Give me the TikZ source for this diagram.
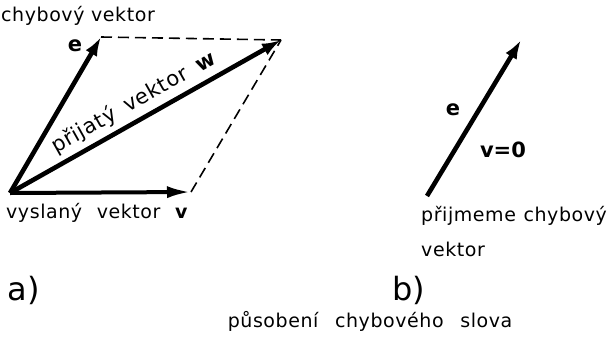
\documentclass[tikz,border=0pt]{standalone}
\usepackage{fontspec}
\setmainfont{DejaVu Sans}
\newfontfamily\spaced[LetterSpace=3]{DejaVu Sans}
\usetikzlibrary{arrows.meta}
\begin{document}
\begin{tikzpicture}[x=1pt, y=-1pt,
  vec/.style={line width=4.6pt, -{Latex[length=19pt, width=13pt]}},
  vecv/.style={line width=4pt, -{Latex[length=24pt, width=12pt]}},
  aux/.style={line width=1.6pt, dash pattern=on 11pt off 6pt},
  lab/.style={font=\fontsize{19}{21}\selectfont\spaced, inner sep=0pt},
  sym/.style={font=\fontsize{21}{22}\selectfont\bfseries, inner sep=0pt},
  big/.style={font=\fontsize{32}{34}\selectfont, inner sep=0pt}
]
\useasboundingbox (0,0) rectangle (611,338);
\coordinate (O) at (10,193);
\coordinate (E) at (101,37);
\coordinate (W) at (281,40);
\coordinate (V) at (191,192);
\coordinate (S) at (427,196);
\coordinate (T) at (521,40);
\draw[aux] (E) -- (W);
\draw[aux] (V) -- (W);
\draw[vec] (O) -- (E);
\draw[vec] (O) -- (W) node[lab, font=\fontsize{21}{22}\selectfont\spaced, sloped, pos=0.49, above=5pt] {přijatý\hspace{5pt} vektor\hspace{5pt} \textbf{w}};
\draw[vecv] (O) -- (V);
\draw[vec] (S) -- (T);
\node[lab, anchor=west] (err) at (1,16) {chybový vektor};
\node[sym] (elab) at (75,46) {e};
\node[lab, anchor=west] (sent) at (6,213) {vyslaný\hspace{8pt} vektor\hspace{8pt} \textbf{v}};
\node[big] (a) at (24,290) {a)};
\node[sym] (e2) at (453,110) {e};
\node[sym] (v0) at (503,150) {v=0};
\node[lab, anchor=west] (acc) at (421,216) {přijmeme\hspace{1pt} chybový};
\node[lab, anchor=west] (acc2) at (421,249) {vektor};
\node[big] (b) at (409,290) {b)};
\node[lab] (cap) at (370,321) {působení\hspace{10pt} chybového\hspace{10pt} slova};
\end{tikzpicture}
\end{document}
